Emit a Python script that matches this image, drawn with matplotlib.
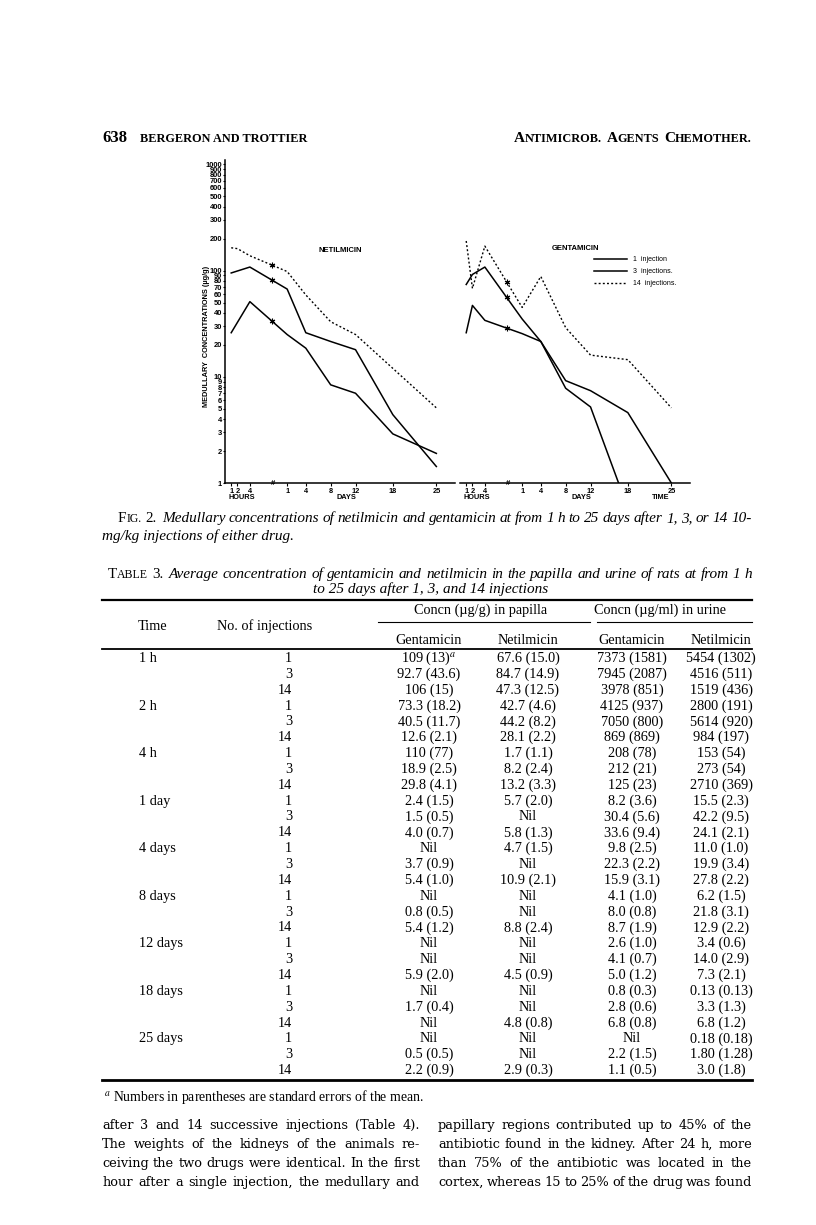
import numpy as np
import matplotlib
matplotlib.use('Agg')
import matplotlib.pyplot as plt
from matplotlib.lines import Line2D
from matplotlib.ticker import FixedLocator, NullLocator

plt.rcParams['font.family'] = ['Liberation Sans', 'DejaVu Sans']
plt.rcParams['mathtext.fontset'] = 'stix'

# ---- Fig. 2 data (medullary concentrations, ug/g) ----
hours = [1, 2, 4]
days = [1, 4, 8, 12, 18, 25]
hour_labels = ['1', '2', '4']
day_labels = ['1', '4', '8', '12', '18', '25']

# order: 1h, 2h, 4h, 1d, 4d, 8d, 12d, 18d, 25d  (None = no point)
net_inj1 = [26, None, 51, 25, 18.6, 8.4, 7.0, 2.9, 1.9]
net_inj3 = [95, None, 108, 67, 26, 21.5, 18, 4.4, 1.43]
net_inj14 = [164, 161, 138, 98, 59, 33, 25, 12, 5.1]

gen_inj1 = [26, 47, 34, 25.5, 21.5, 9.2, 7.4, 4.6, 1.0]
gen_inj3 = [74, 92, 108, 35, 21.5, 7.8, 5.2, 0.58, None]
gen_inj14 = [190, 68, 170, 45, 88, 29, 16, 14.5, 5.1]

y_ticks = [1, 2, 3, 4, 5, 6, 7, 8, 9, 10, 20, 30, 40, 50, 60, 70, 80, 90,
           100, 200, 300, 400, 500, 600, 700, 800, 900, 1000]

# ---- Table 3 data ----
times = ['1 h', '2 h', '4 h', '1 day', '4 days', '8 days', '12 days', '18 days', '25 days']
injections = ['1', '3', '14']
pap_gen = ['109 (13)$^{a}$', '92.7 (43.6)', '106 (15)', '73.3 (18.2)', '40.5 (11.7)', '12.6 (2.1)',
           '110 (77)', '18.9 (2.5)', '29.8 (4.1)', '2.4 (1.5)', '1.5 (0.5)', '4.0 (0.7)',
           'Nil', '3.7 (0.9)', '5.4 (1.0)', 'Nil', '0.8 (0.5)', '5.4 (1.2)',
           'Nil', 'Nil', '5.9 (2.0)', 'Nil', '1.7 (0.4)', 'Nil', 'Nil', '0.5 (0.5)', '2.2 (0.9)']
pap_net = ['67.6 (15.0)', '84.7 (14.9)', '47.3 (12.5)', '42.7 (4.6)', '44.2 (8.2)', '28.1 (2.2)',
           '1.7 (1.1)', '8.2 (2.4)', '13.2 (3.3)', '5.7 (2.0)', 'Nil', '5.8 (1.3)',
           '4.7 (1.5)', 'Nil', '10.9 (2.1)', 'Nil', 'Nil', '8.8 (2.4)',
           'Nil', 'Nil', '4.5 (0.9)', 'Nil', 'Nil', '4.8 (0.8)', 'Nil', 'Nil', '2.9 (0.3)']
uri_gen = ['7373 (1581)', '7945 (2087)', '3978 (851)', '4125 (937)', '7050 (800)', '869 (869)',
           '208 (78)', '212 (21)', '125 (23)', '8.2 (3.6)', '30.4 (5.6)', '33.6 (9.4)',
           '9.8 (2.5)', '22.3 (2.2)', '15.9 (3.1)', '4.1 (1.0)', '8.0 (0.8)', '8.7 (1.9)',
           '2.6 (1.0)', '4.1 (0.7)', '5.0 (1.2)', '0.8 (0.3)', '2.8 (0.6)', '6.8 (0.8)',
           'Nil', '2.2 (1.5)', '1.1 (0.5)']
uri_net = ['5454 (1302)', '4516 (511)', '1519 (436)', '2800 (191)', '5614 (920)', '984 (197)',
           '153 (54)', '273 (54)', '2710 (369)', '15.5 (2.3)', '42.2 (9.5)', '24.1 (2.1)',
           '11.0 (1.0)', '19.9 (3.4)', '27.8 (2.2)', '6.2 (1.5)', '21.8 (3.1)', '12.9 (2.2)',
           '3.4 (0.6)', '14.0 (2.9)', '7.3 (2.1)', '0.13 (0.13)', '3.3 (1.3)', '6.8 (1.2)',
           '0.18 (0.18)', '1.80 (1.28)', '3.0 (1.8)']

body_left = ['after 3 and 14 successive injections (Table 4).',
             'The weights of the kidneys of the animals re-',
             'ceiving the two drugs were identical. In the first',
             'hour after a single injection, the medullary and']
body_right = ['papillary regions contributed up to 45% of the',
              'antibiotic found in the kidney. After 24 h, more',
              'than 75% of the antibiotic was located in the',
              'cortex, whereas 15 to 25% of the drug was found']

SERIF = 'Liberation Serif'
W, H = 816, 1225

fig = plt.figure(figsize=(W / 100, H / 100), dpi=100)
page = fig.add_axes([0, 0, 1, 1])
page.set_xlim(0, W)
page.set_ylim(H, 0)
page.axis('off')
rend = fig.canvas.get_renderer()


def width(s, **kw):
    t = page.text(0, 0, s, **kw)
    w = t.get_window_extent(renderer=rend).width
    t.remove()
    return w


def runs(x, y, parts, gap=0):
    for s, kw in parts:
        page.text(x, y, s, va='baseline', **kw)
        x += width(s, **kw) + gap
    return x


def justify(line, x0, x1, y, **kw):
    words = line.split()
    ws = [width(w, **kw) for w in words]
    sp = (x1 - x0 - sum(ws)) / max(len(words) - 1, 1)
    x = x0
    for w, wd in zip(words, ws):
        page.text(x, y, w, va='baseline', **kw)
        x += wd + sp


# ---- running head ----
page.text(102, 142, '638', family=SERIF, weight='bold', fontsize=12, va='baseline')
page.text(140, 142, 'BERGERON AND TROTTIER', family=SERIF, weight='bold', fontsize=8.8, va='baseline')
big = dict(family=SERIF, weight='bold', fontsize=11)
small = dict(family=SERIF, weight='bold', fontsize=8.8)
head = [('A', big), ('NTIMICROB.', small), ('A', big), ('GENTS', small), ('C', big), ('HEMOTHER.', small)]
gaps = [0, 5, 0, 5, 0, 0]
tot = sum(width(s, **k) for s, k in head) + sum(gaps)
x = 752 - tot
for (s, k), g in zip(head, gaps):
    page.text(x, 142, s, va='baseline', **k)
    x += width(s, **k) + g

# ---- the two panels ----
def fig_rect(x0, y0, x1, y1):
    return [x0 / W, 1 - y1 / H, (x1 - x0) / W, (y1 - y0) / H]


DAY_SHIFT = 9
x_pos = np.array(hours + [d + DAY_SHIFT for d in days], float)
x_labels = hour_labels + day_labels
BREAK_X = 7.5

solid = dict(color='black', lw=1.1)
dotted = dict(color='black', lw=1.0, ls=(0, (1.4, 1.6)))


def draw_series(ax, vals, style):
    xs = [p for p, v in zip(x_pos, vals) if v is not None]
    ys = [v for v in vals if v is not None]
    ax.plot(xs, ys, **style)
    yb = 10 ** np.interp(BREAK_X, xs, np.log10(ys))
    ax.plot([BREAK_X], [yb], ls='none', marker=(6, 2, 0), ms=4, mew=0.8, color='black')


axL = fig.add_axes(fig_rect(225, 160, 455, 483))
axR = fig.add_axes(fig_rect(460, 160, 690, 483))
for ax in (axL, axR):
    ax.set_facecolor('none')
    ax.set_yscale('log')
    ax.set_ylim(1, 1100)
    ax.set_xlim(0, 37)
    ax.spines['top'].set_visible(False)
    ax.spines['right'].set_visible(False)
    ax.spines['bottom'].set_linewidth(1.1)
    ax.xaxis.set_major_locator(FixedLocator(x_pos))
    ax.set_xticklabels(x_labels)
    ax.tick_params(axis='x', labelsize=5.3, length=2, width=0.8, pad=1.5)
    for lab in ax.get_xticklabels():
        lab.set_fontweight('bold')
    ax.text(BREAK_X + 0.2, 1, '#', fontsize=5.5, weight='bold', ha='center', va='center')
    trans = ax.get_xaxis_transform()
    ax.text(2.7, -0.045, 'HOURS', transform=trans, fontsize=5.3, weight='bold', ha='center', va='center')
    ax.text(19.5, -0.045, 'DAYS', transform=trans, fontsize=5.3, weight='bold', ha='center', va='center')

axR.text(32.3, -0.045, 'TIME', transform=axR.get_xaxis_transform(), fontsize=5.3, weight='bold',
         ha='center', va='center')

axL.spines['left'].set_linewidth(1.1)
axL.yaxis.set_major_locator(FixedLocator(y_ticks))
axL.yaxis.set_minor_locator(NullLocator())
axL.set_yticklabels([str(v) for v in y_ticks])
axL.tick_params(axis='y', labelsize=5.4, length=1.5, width=0.8, pad=0.5)
for lab in axL.get_yticklabels():
    lab.set_fontweight('bold')

axR.spines['left'].set_visible(False)
axR.yaxis.set_major_locator(NullLocator())
axR.yaxis.set_minor_locator(NullLocator())

draw_series(axL, net_inj1, solid)
draw_series(axL, net_inj3, solid)
draw_series(axL, net_inj14, dotted)
draw_series(axR, gen_inj1, solid)
draw_series(axR, gen_inj3, solid)
draw_series(axR, gen_inj14, dotted)

page.text(206, 336, 'MEDULLARY  CONCENTRATIONS (µg/g)', rotation=90, fontsize=5.3, weight='bold',
          ha='center', va='center')
page.text(340, 250, 'NETILMICIN', fontsize=5.5, weight='bold', ha='center', va='center')
page.text(575, 248, 'GENTAMICIN', fontsize=5.5, weight='bold', ha='center', va='center')

handles = [Line2D([], [], **solid), Line2D([], [], **solid), Line2D([], [], **dotted)]
axR.legend(handles, ['1  injection', '3  injections.', '14  injections.'], loc='upper left',
           bbox_to_anchor=(594 / W, 1 - 256 / H), bbox_transform=fig.transFigure, frameon=False,
           fontsize=5, handlelength=4.8, labelspacing=0.75, handletextpad=0.8,
           borderpad=0, borderaxespad=0)

# ---- figure caption ----
rm = dict(family=SERIF, fontsize=10.8)
sc = dict(family=SERIF, fontsize=8.5)
it = dict(family=SERIF, fontsize=11, style='italic')
x = runs(118, 522, [('F', rm), ('IG.', sc)])
x = runs(x + 4, 522, [('2.', rm)])
justify('Medullary concentrations of netilmicin and gentamicin at from 1 h to 25 days after 1, 3, or 14 10-',
        x + 5, 752, 522, **it)
page.text(102, 540, 'mg/kg injections of either drug.', va='baseline', **it)

# ---- table title ----
x = runs(108, 578, [('T', rm), ('ABLE', sc)])
x = runs(x + 4, 578, [('3.', rm)])
justify('Average concentration of gentamicin and netilmicin in the papilla and urine of rats at from 1 h',
        x + 5, 752, 578, **it)
page.text(431, 593, 'to 25 days after 1, 3, and 14 injections', ha='center', va='baseline', **it)

# ---- table ----
tf = dict(family=SERIF, fontsize=10.3)
page.plot([102, 752], [600, 600], color='black', lw=1.6)
page.plot([378, 590], [622, 622], color='black', lw=0.8)
page.plot([597, 752], [622, 622], color='black', lw=0.8)
page.plot([102, 752], [649, 649], color='black', lw=1.3)
page.plot([102, 752], [1080, 1080], color='black', lw=2.0)

page.text(481, 614, 'Concn (µg/g) in papilla', ha='center', va='baseline', **tf)
page.text(660, 614, 'Concn (µg/ml) in urine', ha='center', va='baseline', **tf)
page.text(153, 630, 'Time', ha='center', va='baseline', **tf)
page.text(265, 630, 'No. of injections', ha='center', va='baseline', **tf)
col_x = [429, 528, 632, 721]
for cx, name in zip(col_x, ['Gentamicin', 'Netilmicin', 'Gentamicin', 'Netilmicin']):
    page.text(cx, 644, name, ha='center', va='baseline', **tf)

row_y = 662 + np.arange(len(pap_gen)) * 15.85
for i, y in enumerate(row_y):
    if i % 3 == 0:
        page.text(139, y, times[i // 3], ha='left', va='baseline', **tf)
    page.text(292, y, injections[i % 3], ha='right', va='baseline', **tf)
    for cx, col in zip(col_x, [pap_gen, pap_net, uri_gen, uri_net]):
        page.text(cx, y, col[i], ha='center', va='baseline', **tf)

page.text(104, 1101, '$^{a}$ Numbers in parentheses are standard errors of the mean.',
          family=SERIF, fontsize=9.9, va='baseline')

# ---- body text ----
body = dict(family='DejaVu Serif', fontsize=9.3)
for i, line in enumerate(body_left):
    justify(line, 102, 420, 1129 + i * 19, **body)
for i, line in enumerate(body_right):
    justify(line, 438, 752, 1129 + i * 19, **body)

fig.savefig('out.png', dpi=100, facecolor='white')
